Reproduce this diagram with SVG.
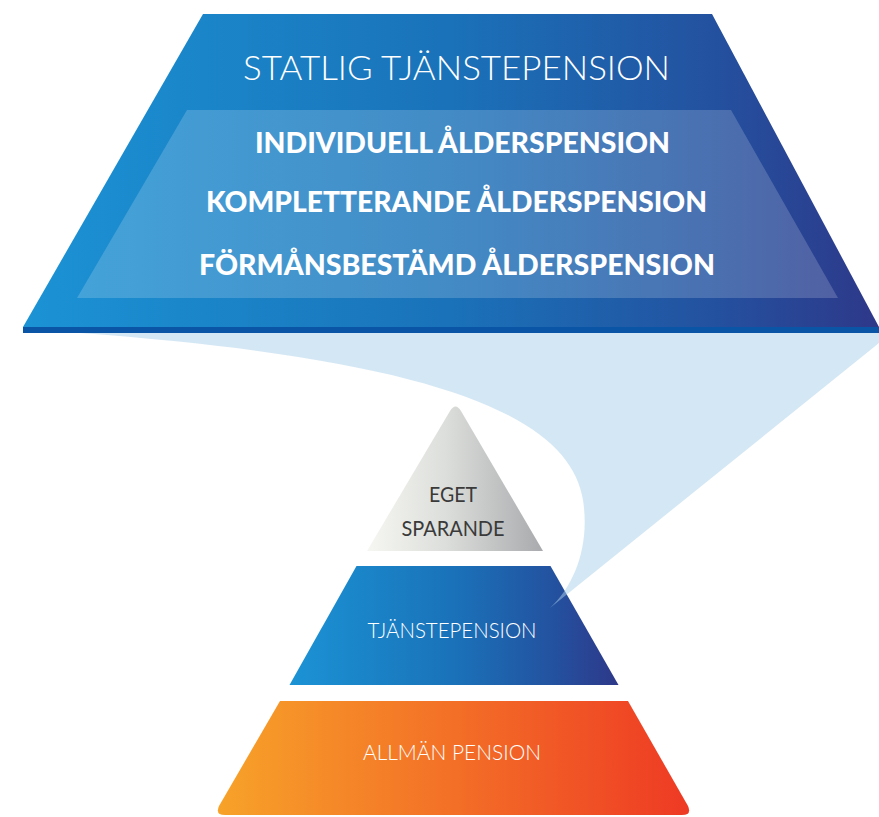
<svg xmlns="http://www.w3.org/2000/svg" width="879" height="817" viewBox="0 0 879 817">
  <defs>
    <linearGradient id="gBlue" x1="0" y1="0" x2="1" y2="0">
      <stop offset="0" stop-color="#1b93d5"/>
      <stop offset="0.5" stop-color="#1a72b9"/>
      <stop offset="0.8" stop-color="#2352a0"/>
      <stop offset="1" stop-color="#2e3889"/>
    </linearGradient>
    <linearGradient id="gGrey" x1="0" y1="0" x2="1" y2="0">
      <stop offset="0" stop-color="#f6f7f2"/>
      <stop offset="0.45" stop-color="#dcdedb"/>
      <stop offset="1" stop-color="#a9aaad"/>
    </linearGradient>
    <linearGradient id="gOrange" x1="0" y1="0" x2="1" y2="0">
      <stop offset="0" stop-color="#f7a229"/>
      <stop offset="0.5" stop-color="#f36f27"/>
      <stop offset="1" stop-color="#ee3a24"/>
    </linearGradient>
    <style>
      .light { font-family: Lato, "Liberation Sans", sans-serif; font-weight: 300; text-anchor: middle; }
      .label { font-family: Lato, "Liberation Sans", sans-serif; font-weight: 400; text-anchor: middle; }
      .bold { font-family: Lato, "Liberation Sans", sans-serif; font-weight: 900; fill: #ffffff; text-anchor: middle; }
    </style>
  </defs>
  <rect width="879" height="817" fill="#ffffff"/>

  <g id="tjanstepension">
    <polygon points="356.5,566 550.5,566 618.5,685 289.5,685" fill="url(#gBlue)"/>
    <text class="light" x="452" y="638" font-size="21" fill="#ffffff" textLength="169" lengthAdjust="spacingAndGlyphs">TJÄNSTEPENSION</text>
  </g>

  <g id="connectors">
    <path d="M80,333 L879,333 L879,343 L550,608 C575,585 590,545 583,500 C570,420 450,360 80,333 Z" fill="#a9cfea" fill-opacity="0.5"/>
  </g>

  <g id="statlig-tjanstepension">
    <polygon points="203,14 712,14 879,327 23,327" fill="url(#gBlue)"/>
    <rect x="23" y="327" width="856" height="6" fill="#0a55a5"/>
    <polygon points="187,110 731,110 838,298 77,298" fill="#ffffff" fill-opacity="0.18"/>
    <text class="light" x="456.5" y="80" font-size="34" fill="#ffffff" textLength="427" lengthAdjust="spacingAndGlyphs">STATLIG TJÄNSTEPENSION</text>
    <text class="bold" x="462.5" y="153" font-size="28" textLength="415" lengthAdjust="spacingAndGlyphs">INDIVIDUELL ÅLDERSPENSION</text>
    <text class="bold" x="456.5" y="212" font-size="28" textLength="501" lengthAdjust="spacingAndGlyphs">KOMPLETTERANDE ÅLDERSPENSION</text>
    <text class="bold" x="457" y="275" font-size="28" textLength="516" lengthAdjust="spacingAndGlyphs">FÖRMÅNSBESTÄMD ÅLDERSPENSION</text>
  </g>

  <g id="eget-sparande">
    <path d="M450,411 Q455.5,402 461,411 L543,551 L367,551 Z" fill="url(#gGrey)"/>
    <text class="label" x="453" y="502" font-size="21" fill="#3a3a3a" textLength="48" lengthAdjust="spacingAndGlyphs">EGET</text>
    <text class="label" x="453" y="536" font-size="21" fill="#3a3a3a" textLength="103" lengthAdjust="spacingAndGlyphs">SPARANDE</text>
  </g>

  <g id="allman-pension">
    <path d="M280,701 L628,701 L688,806 Q692,815 682,815 L225,815 Q215,815 219,806 Z" fill="url(#gOrange)"/>
    <text class="light" x="452" y="760" font-size="21" fill="#ffffff" textLength="178" lengthAdjust="spacingAndGlyphs">ALLMÄN PENSION</text>
  </g>
</svg>
